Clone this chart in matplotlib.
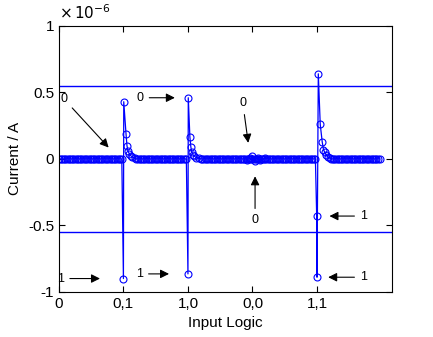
import numpy as np
import matplotlib
matplotlib.use('Agg')
import matplotlib.pyplot as plt

plt.rcParams['font.family'] = ['Liberation Sans', 'DejaVu Sans']

# x tick labels (input logic states)
tick_pos = [0, 1, 2, 3, 4]
tick_labels = ['0', '0,1', '1,0', '0,0', '1,1']
ytick_pos = [-1, -0.5, 0, 0.5, 1]
ytick_labels = ['-1', '-0.5', '0', '0.5', '1']

# flat parts of the trace (current ~ 0), sampled every 0.025
flat_ranges = [(0.0, 0.98), (1.2, 1.98), (2.2, 3.98), (4.22, 4.98)]
flat_step = 0.025

# small wobble around logic 0,0
wobble_t = [2.92, 2.96, 3.0, 3.04, 3.08, 3.12, 3.2]
wobble_i = [-0.01, 0.01, 0.02, -0.015, 0.01, -0.01, 0.01]

# spikes at each transition (units of 1e-6 A)
spike1_t = [1.0, 1.005, 1.04, 1.055, 1.07, 1.09, 1.11, 1.14, 1.18]
spike1_i = [-0.90, 0.43, 0.19, 0.10, 0.06, 0.04, 0.025, 0.015, 0.005]
spike2_t = [2.0, 2.005, 2.03, 2.045, 2.06, 2.08, 2.1, 2.13, 2.17]
spike2_i = [-0.865, 0.46, 0.165, 0.09, 0.05, 0.03, 0.02, 0.01, 0.005]
spike4_t = [3.995, 4.0, 4.02, 4.05, 4.08, 4.1, 4.12, 4.14, 4.17, 4.2]
spike4_i = [-0.43, -0.89, 0.64, 0.26, 0.13, 0.07, 0.05, 0.03, 0.015, 0.005]

# threshold lines
threshold = 0.55

t_list, i_list = [], []
for a, b in flat_ranges:
    seg = np.arange(a, b + 1e-9, flat_step)
    t_list.extend(seg)
    i_list.extend(np.zeros(len(seg)))
for tt, ii in [(wobble_t, wobble_i), (spike1_t, spike1_i),
               (spike2_t, spike2_i), (spike4_t, spike4_i)]:
    t_list.extend(tt)
    i_list.extend(ii)
t = np.array(t_list)
cur = np.array(i_list)
order = np.argsort(t, kind='stable')
t, cur = t[order], cur[order]

fig = plt.figure(figsize=(4.33, 3.37), dpi=100)
ax = fig.add_axes([0.136, 0.134, 0.769, 0.789])

ax.plot(t, cur, color='blue', linewidth=0.9, marker='o', markersize=5,
        markerfacecolor='none', markeredgecolor='blue', markeredgewidth=0.8)
ax.axhline(threshold, color='blue', linewidth=1)
ax.axhline(-threshold, color='blue', linewidth=1)

ax.set_xlim(0, 5.16)
ax.set_ylim(-1, 1)
ax.set_xticks(tick_pos)
ax.set_xticklabels(tick_labels)
ax.set_yticks(ytick_pos)
ax.set_yticklabels(ytick_labels)
ax.tick_params(direction='in', top=True, right=True, labelsize=11, length=4)
ax.text(0.0, 1.015, r'$\times\,10^{-6}$', transform=ax.transAxes,
        fontsize=11, ha='left', va='bottom')
ax.set_xlabel('Input Logic', fontsize=11)
ax.set_ylabel('Current / A', fontsize=11)

arrow = dict(arrowstyle='-|>', color='black', linewidth=0.8, mutation_scale=13)
notes = [
    ('0', (0.08, 0.45), (0.80, 0.07)),
    ('0', (1.26, 0.46), (1.84, 0.46)),
    ('0', (2.85, 0.42), (2.94, 0.10)),
    ('0', (3.04, -0.46), (3.04, -0.11)),
    ('1', (4.72, -0.43), (4.15, -0.43)),
    ('1', (4.72, -0.89), (4.13, -0.89)),
    ('1', (0.03, -0.90), (0.68, -0.90)),
    ('1', (1.25, -0.865), (1.75, -0.865)),
]
for txt, xy_text, xy_head in notes:
    ax.annotate(txt, xy=xy_head, xytext=xy_text,
                fontsize=9, ha='center', va='center', arrowprops=arrow)

fig.savefig('out.png', dpi=100)
